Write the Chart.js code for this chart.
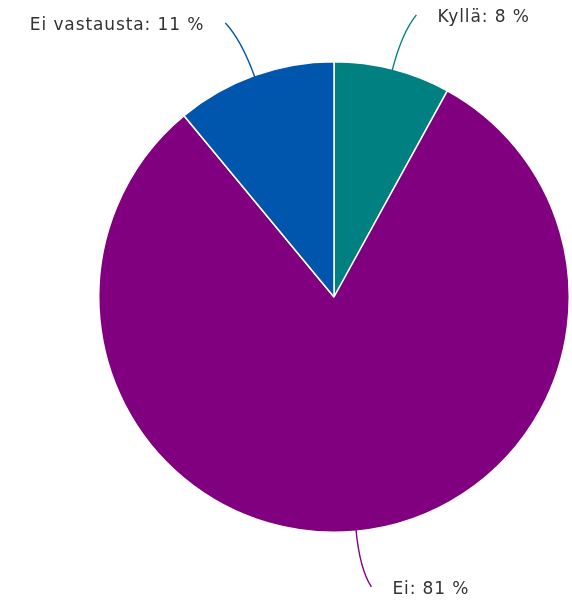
<!DOCTYPE html>
<html>
<head>
<meta charset="utf-8">
<script src="https://cdn.jsdelivr.net/npm/chart.js@4/dist/chart.umd.min.js"></script>
<style>
  html, body { margin: 0; padding: 0; background: #fff; }
  #wrap { width: 572px; height: 600px; }
</style>
</head>
<body>
<div id="wrap"><canvas id="pieChart" width="572" height="600"></canvas></div>
<script>
// Data
const labels = ['Kyllä', 'Ei', 'Ei vastausta'];
const values = [8, 81, 11];
const colors = ['#008080', '#800080', '#0055ad'];

// Draws the "Name: N %" labels with curved leader lines
const leaderLabels = {
  id: 'leaderLabels',
  afterDatasetsDraw(chart) {
    const ctx = chart.ctx;
    const meta = chart.getDatasetMeta(0);
    ctx.save();
    ctx.font = '17px "DejaVu Sans", Verdana, sans-serif';
    ctx.letterSpacing = '0.9px';
    ctx.textBaseline = 'middle';
    meta.data.forEach((arc, i) => {
      const mid = (arc.startAngle + arc.endAngle) / 2;
      const dx = Math.cos(mid), dy = Math.sin(mid);
      const r = arc.outerRadius;
      const sx = arc.x + dx * (r - 2), sy = arc.y + dy * (r - 2);
      const side = dx >= 0 ? 1 : -1;
      const cx = arc.x + dx * (r + 38), cy = arc.y + dy * (r + 38);
      const ex = arc.x + dx * (r + 56) + side * 10, ey = arc.y + dy * (r + 56);
      ctx.strokeStyle = colors[i];
      ctx.lineWidth = 1.4;
      ctx.beginPath();
      ctx.moveTo(sx, sy);
      ctx.quadraticCurveTo(cx, cy, ex, ey);
      ctx.stroke();
      ctx.fillStyle = '#333333';
      ctx.textAlign = side > 0 ? 'left' : 'right';
      ctx.fillText(labels[i] + ': ' + values[i] + ' %', ex + side * 21, ey + 3);
    });
    ctx.restore();
  }
};

new Chart(document.getElementById('pieChart').getContext('2d'), {
  type: 'pie',
  data: {
    labels: labels,
    datasets: [{
      data: values,
      backgroundColor: colors,
      borderColor: '#ffffff',
      borderWidth: 1.5
    }]
  },
  options: {
    responsive: false,
    animation: false,
    layout: { padding: { left: 98, right: 2, top: 61, bottom: 67 } },
    plugins: {
      legend: { display: false },
      tooltip: { enabled: false }
    }
  },
  plugins: [leaderLabels]
});
</script>
</body>
</html>
